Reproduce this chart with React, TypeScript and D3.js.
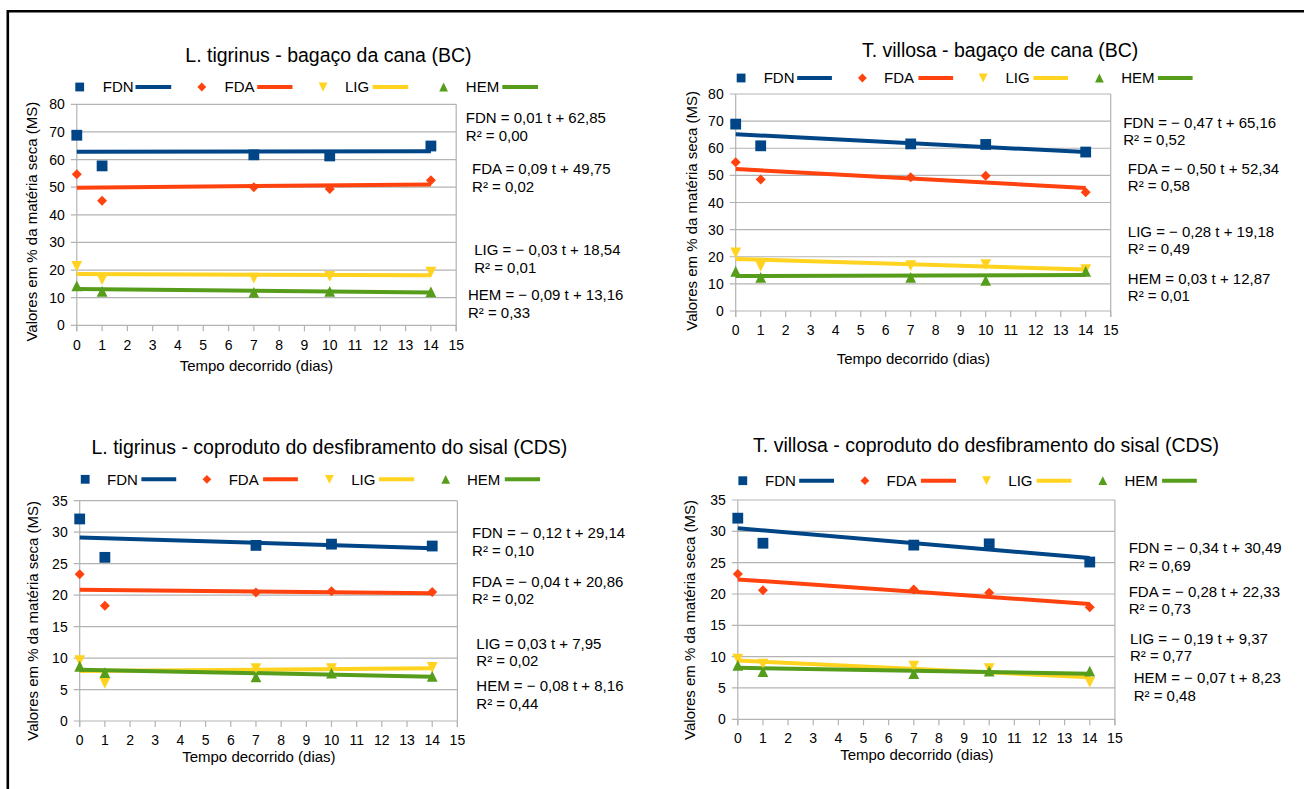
import React from 'react';
import * as d3 from 'd3';

// ---------- data ----------
const days = [0, 1, 7, 10, 14];
const seriesNames = ['FDN', 'FDA', 'LIG', 'HEM'];
const seriesColors = ['#004586', '#ff420e', '#ffd320', '#579d1c'];
const xTicks = d3.range(0, 16);

// L. tigrinus - bagaço da cana (BC)
const ltBcFDN = [68.8, 57.7, 61.7, 61.3, 64.9];
const ltBcFDA = [54.7, 45.1, 50.0, 49.3, 52.5];
const ltBcLIG = [21.3, 16.5, 17.1, 17.7, 19.2];
const ltBcHEM = [14.3, 12.3, 11.9, 12.3, 12.1];
const ltBcTrend = [[0.01, 62.85], [0.09, 49.75], [-0.03, 18.54], [-0.09, 13.16]];
const ltBcEq = [
  ['FDN = 0,01 t + 62,85', 'R² = 0,00'],
  ['FDA = 0,09 t + 49,75', 'R² = 0,02'],
  ['LIG = − 0,03 t + 18,54', 'R² = 0,01'],
  ['HEM = − 0,09 t + 13,16', 'R² = 0,33'],
];

// T. villosa - bagaço de cana (BC)
const tvBcFDN = [68.9, 60.9, 61.6, 61.4, 58.6];
const tvBcFDA = [54.8, 48.5, 49.3, 49.9, 43.8];
const tvBcLIG = [21.4, 16.5, 16.7, 17.1, 15.2];
const tvBcHEM = [14.6, 12.4, 12.4, 11.3, 14.6];
const tvBcTrend = [[-0.47, 65.16], [-0.5, 52.34], [-0.28, 19.18], [0.03, 12.87]];
const tvBcEq = [
  ['FDN = − 0,47 t + 65,16', 'R² = 0,52'],
  ['FDA = − 0,50 t + 52,34', 'R² = 0,58'],
  ['LIG = − 0,28 t + 19,18', 'R² = 0,49'],
  ['HEM = 0,03 t + 12,87', 'R² = 0,01'],
];

// L. tigrinus - coproduto do desfibramento do sisal (CDS)
const ltCdsFDN = [32.1, 26.0, 27.9, 28.1, 27.8];
const ltCdsFDA = [23.3, 18.3, 20.4, 20.6, 20.5];
const ltCdsLIG = [9.6, 6.0, 8.3, 8.3, 8.5];
const ltCdsHEM = [8.7, 7.7, 7.0, 7.6, 7.1];
const ltCdsTrend = [[-0.12, 29.14], [-0.04, 20.86], [0.03, 7.95], [-0.08, 8.16]];
const ltCdsEq = [
  ['FDN = − 0,12 t + 29,14', 'R² = 0,10'],
  ['FDA = − 0,04 t + 20,86', 'R² = 0,02'],
  ['LIG = 0,03 t + 7,95', 'R² = 0,02'],
  ['HEM = − 0,08 t + 8,16', 'R² = 0,44'],
];

// T. villosa - coproduto do desfibramento do sisal (CDS)
const tvCdsFDN = [32.1, 28.1, 27.8, 28.0, 25.1];
const tvCdsFDA = [23.2, 20.6, 20.7, 20.2, 17.9];
const tvCdsLIG = [9.6, 8.8, 8.5, 8.1, 5.9];
const tvCdsHEM = [8.6, 7.6, 7.3, 7.7, 7.7];
const tvCdsTrend = [[-0.34, 30.49], [-0.28, 22.33], [-0.19, 9.37], [-0.07, 8.23]];
const tvCdsEq = [
  ['FDN = − 0,34 t + 30,49', 'R² = 0,69'],
  ['FDA = − 0,28 t + 22,33', 'R² = 0,73'],
  ['LIG = − 0,19 t + 9,37', 'R² = 0,77'],
  ['HEM = − 0,07 t + 8,23', 'R² = 0,48'],
];

// ---------- layout ----------
const panels = [
  {
    title: 'L. tigrinus - bagaço da cana (BC)',
    series: [ltBcFDN, ltBcFDA, ltBcLIG, ltBcHEM], trend: ltBcTrend, eq: ltBcEq,
    yMax: 80, yStep: 10,
    left: 76.8, right: 456.2, top: 104.3, bottom: 325.3,
    titleX: 328.4, titleY: 55,
    legendY: 87,
    legMarker: [79.7, 201.8, 323.1, 443.6],
    legText: [102.8, 224.5, 345, 465.8],
    legLine: [[135.5, 171.2], [257.2, 292.5], [372.6, 408.3], [502.3, 538]],
    eqX: [465.8, 472.1, 474.2, 467.9],
    eqY: [[118, 136], [169, 187], [249.3, 267.7], [294.7, 312.7]],
    xTickY: 345, xTitleX: 256.4, xTitleY: 365.7, yTitleX: 31.5, yTitleY: 221.7,
  },
  {
    title: 'T. villosa - bagaço de cana (BC)',
    series: [tvBcFDN, tvBcFDA, tvBcLIG, tvBcHEM], trend: tvBcTrend, eq: tvBcEq,
    yMax: 80, yStep: 10,
    left: 735.7, right: 1110.7, top: 94, bottom: 311,
    titleX: 1000.1, titleY: 50,
    legendY: 78,
    legMarker: [741.1, 862.4, 983.2, 1099.4],
    legText: [763.7, 884.1, 1005.4, 1121.2],
    legLine: [[797.2, 831.9], [918.4, 953.1], [1033.4, 1068], [1157.9, 1192.6]],
    eqX: [1123.2, 1127.8, 1127.8, 1127.8],
    eqY: [[122.7, 140], [169, 186], [231.7, 248.7], [278.3, 295.7]],
    xTickY: 330, xTitleX: 913.4, xTitleY: 359, yTitleX: 691.8, yTitleY: 210.8,
  },
  {
    title: 'L. tigrinus - coproduto do desfibramento do sisal (CDS)',
    series: [ltCdsFDN, ltCdsFDA, ltCdsLIG, ltCdsHEM], trend: ltCdsTrend, eq: ltCdsEq,
    yMax: 35, yStep: 5,
    left: 79.7, right: 457.4, top: 500.7, bottom: 721,
    titleX: 329.4, titleY: 446.7,
    legendY: 479.3,
    legMarker: [85.2, 206.9, 329.4, 445.7],
    legText: [107, 228.7, 351.2, 467],
    legLine: [[141.4, 176.2], [263.1, 297.9], [378.9, 414.2], [504.8, 540.1]],
    eqX: [472.1, 472.1, 476.3, 476.3],
    eqY: [[532.7, 551], [581.7, 599], [644, 660.7], [686, 703.3]],
    xTickY: 740.2, xTitleX: 258.9, xTitleY: 757, yTitleX: 32.7, yTitleY: 620.8,
  },
  {
    title: 'T. villosa - coproduto do desfibramento do sisal (CDS)',
    series: [tvCdsFDN, tvCdsFDA, tvCdsLIG, tvCdsHEM], trend: tvCdsTrend, eq: tvCdsEq,
    yMax: 35, yStep: 5,
    left: 737.8, right: 1114.9, top: 500, bottom: 719.3,
    titleX: 986.1, titleY: 445,
    legendY: 480.7,
    legMarker: [742.8, 864.9, 986.5, 1102.8],
    legText: [765, 886.6, 1008.3, 1124.5],
    legLine: [[799.2, 834], [920.9, 956], [1036.7, 1071.4], [1162.1, 1196.8]],
    eqX: [1128.7, 1128.7, 1129.9, 1133.7],
    eqY: [[547.3, 565.7], [591.7, 609], [638.3, 655.7], [677.3, 695.3]],
    xTickY: 738.3, xTitleX: 916.9, xTitleY: 754.5, yTitleX: 689.7, yTitleY: 620,
  },
];

const FONT = '"Liberation Sans", Arial, sans-serif';
const GRID = '#b3b3b3';

function markerPath(kind: number, s: number): string {
  const p = d3.path();
  if (kind === 0) {
    p.rect(-s, -s, 2 * s, 2 * s);
  } else if (kind === 1) {
    p.moveTo(0, -s); p.lineTo(s, 0); p.lineTo(0, s); p.lineTo(-s, 0); p.closePath();
  } else if (kind === 2) {
    p.moveTo(-s, -s); p.lineTo(s, -s); p.lineTo(0, s); p.closePath();
  } else {
    p.moveTo(-s, s); p.lineTo(s, s); p.lineTo(0, -s); p.closePath();
  }
  return p.toString();
}

function Panel({ cfg }: { cfg: any }) {
  const x = d3.scaleLinear().domain([0, 15]).range([cfg.left, cfg.right]);
  const y = d3.scaleLinear().domain([0, cfg.yMax]).range([cfg.bottom, cfg.top]);
  const yTicks = d3.range(0, cfg.yMax + cfg.yStep / 2, cfg.yStep);
  return (
    <g fontFamily={FONT} fill="#000">
      <text x={cfg.titleX} y={cfg.titleY + 0.36 * 19.5} fontSize={19.5} textAnchor="middle">{cfg.title}</text>
      {/* grid */}
      {yTicks.map((v: number) => (
        <line key={'g' + v} x1={cfg.left - 6} x2={cfg.right} y1={y(v)} y2={y(v)} stroke={GRID} strokeWidth={1.2} />
      ))}
      <line x1={cfg.left} x2={cfg.left} y1={cfg.top} y2={cfg.bottom + 6} stroke={GRID} strokeWidth={1.2} />
      <line x1={cfg.right} x2={cfg.right} y1={cfg.top} y2={cfg.bottom + 6} stroke={GRID} strokeWidth={1.2} />
      {xTicks.map((t: number) => (
        <line key={'xt' + t} x1={x(t)} x2={x(t)} y1={cfg.bottom} y2={cfg.bottom + 6} stroke={GRID} strokeWidth={1.2} />
      ))}
      {yTicks.map((v: number) => (
        <text key={'yl' + v} x={cfg.left - 12} y={y(v) + 0.36 * 14} fontSize={14} textAnchor="end">{v}</text>
      ))}
      {xTicks.map((t: number) => (
        <text key={'xl' + t} x={x(t)} y={cfg.xTickY + 0.36 * 14} fontSize={14} textAnchor="middle">{t}</text>
      ))}
      <text x={cfg.xTitleX} y={cfg.xTitleY + 0.36 * 15} fontSize={15} textAnchor="middle">Tempo decorrido (dias)</text>
      <text transform={`translate(${cfg.yTitleX + 0.36 * 15},${cfg.yTitleY}) rotate(-90)`} fontSize={15} textAnchor="middle">
        Valores em % da matéria seca (MS)
      </text>
      {/* trend lines */}
      {cfg.trend.map((tr: number[], i: number) => {
        const gen = d3.line<number>().x((t) => x(t)).y((t) => y(tr[0] * t + tr[1]));
        return (
          <path key={'tr' + i} d={gen([0, 14]) || ''} stroke={seriesColors[i]} strokeWidth={4} fill="none" />
        );
      })}
      {/* markers */}
      {cfg.series.map((vals: number[], i: number) =>
        vals.map((v: number, j: number) => (
          <path key={'m' + i + '-' + j} d={markerPath(i, i === 1 ? 5 : 5.4)}
            transform={`translate(${x(days[j])},${y(v)})`} fill={seriesColors[i]} />
        ))
      )}
      {/* legend */}
      {seriesNames.map((name: string, i: number) => (
        <g key={'lg' + i}>
          <path d={markerPath(i, 4.4)} transform={`translate(${cfg.legMarker[i]},${cfg.legendY})`} fill={seriesColors[i]} />
          <text x={cfg.legText[i]} y={cfg.legendY + 0.36 * 15} fontSize={15}>{name}</text>
          <line x1={cfg.legLine[i][0]} x2={cfg.legLine[i][1]} y1={cfg.legendY} y2={cfg.legendY} stroke={seriesColors[i]} strokeWidth={4} />
        </g>
      ))}
      {/* equations */}
      {cfg.eq.map((pair: string[], i: number) => (
        <g key={'eq' + i}>
          <text x={cfg.eqX[i]} y={cfg.eqY[i][0] + 0.36 * 15} fontSize={15}>{pair[0]}</text>
          <text x={cfg.eqX[i]} y={cfg.eqY[i][1] + 0.36 * 15} fontSize={15}>{pair[1]}</text>
        </g>
      ))}
    </g>
  );
}

export default function App() {
  return (
    <svg width={1304} height={789} style={{ position: 'absolute', left: 0, top: 0, background: '#fff' }}>
      <rect x={0} y={0} width={1304} height={789} fill="#fff" />
      <path d="M7.8,800 L7.8,11.3 L1320,11.3" stroke="#000" strokeWidth={2.6} fill="none" />
      {panels.map((p, i) => <Panel key={i} cfg={p} />)}
    </svg>
  );
}
